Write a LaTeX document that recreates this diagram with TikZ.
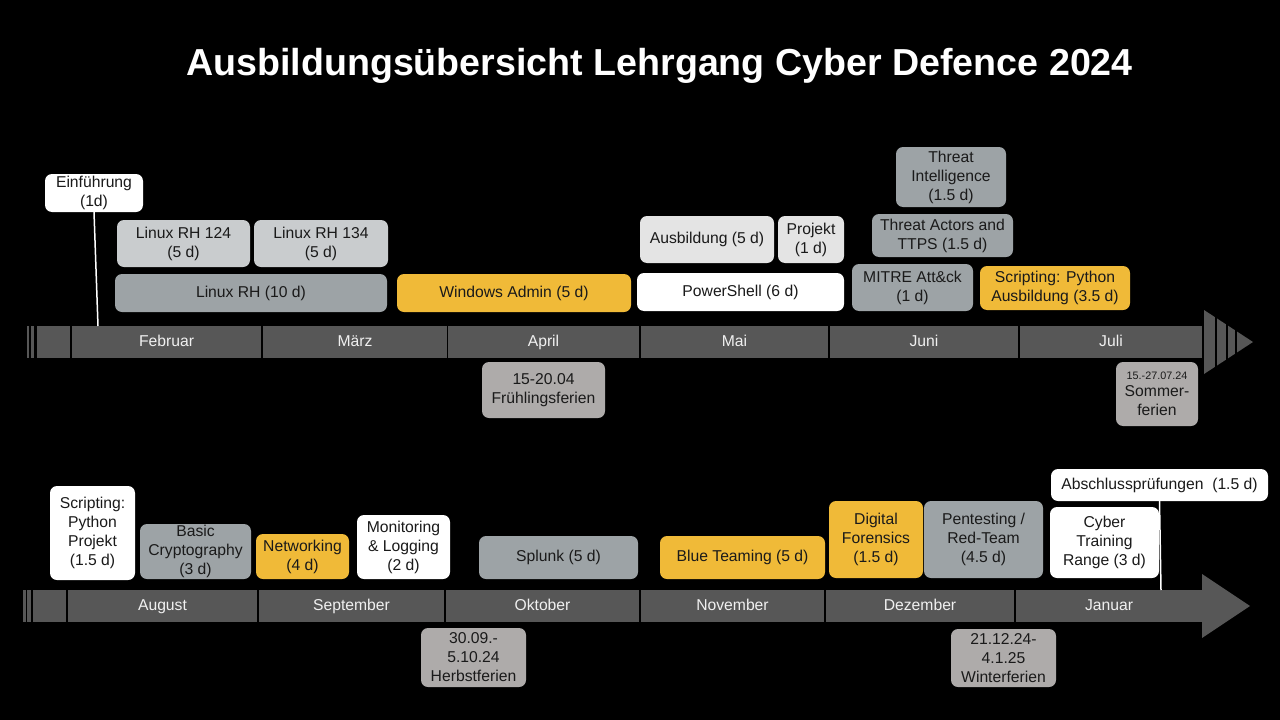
\documentclass[tikz,border=0pt]{standalone}
\usepackage{fontspec}
\setmainfont{Liberation Sans}
\definecolor{bargray}{HTML}{575757}
\definecolor{monthtext}{HTML}{F0F0F0}
\definecolor{coursegray}{HTML}{9DA3A6}
\definecolor{lightgray}{HTML}{C9CCCE}
\definecolor{palegray}{HTML}{E4E4E4}
\definecolor{holidaygray}{HTML}{AEABAA}
\definecolor{courseorange}{HTML}{F0BA38}
\definecolor{boxtext}{HTML}{1A1A1A}

\begin{document}
\begin{tikzpicture}[x=1pt,y=-1pt,
  box/.style={rounded corners=7pt,inner sep=0pt,outer sep=0pt,align=center,text=boxtext,font=\fontsize{15.7}{19}\selectfont},
  month/.style={fill=bargray,inner sep=0pt,outer sep=0pt,minimum height=32pt,text height=11.3pt,text depth=3.3pt,text=monthtext,font=\fontsize{15.7}{19}\selectfont},
  connector/.style={draw=white,line width=1.5pt}]
\fill[black] (0,0) rectangle (1280,720);
\node[text=white,font=\bfseries\fontsize{37.6}{44}\selectfont] (title) at (659.5,66) {Ausbildungsübersicht Lehrgang Cyber Defence 2024};

\fill[bargray] (27,326) rectangle (29.3,358);
\fill[bargray] (31,326) rectangle (34.3,358);
\fill[bargray] (36.7,326) rectangle (70,358);
\node[month,minimum width=189pt] (feb) at (166.5,342) {Februar};
\node[month,minimum width=184pt] (mar) at (355,342) {März};
\node[month,minimum width=191pt] (apr) at (543.5,342) {April};
\node[month,minimum width=187pt] (mai) at (734.5,342) {Mai};
\node[month,minimum width=188pt] (jun) at (924,342) {Juni};
\node[month,minimum width=182pt] (jul) at (1111,342) {Juli};
\fill[bargray] (1204,310) -- (1253,342) -- (1204,374) -- cycle;
\draw[black,line width=2pt] (1216,300) -- (1216,385) (1227,300) -- (1227,385) (1236,300) -- (1236,385);

\fill[bargray] (23.3,590) rectangle (26,622);
\fill[bargray] (27.3,590) rectangle (30.7,622);
\fill[bargray] (33,590) rectangle (66,622);
\node[month,minimum width=189pt] (aug) at (162.5,606) {August};
\node[month,minimum width=185pt] (sep) at (351.5,606) {September};
\node[month,minimum width=193pt] (okt) at (542.5,606) {Oktober};
\node[month,minimum width=183pt] (nov) at (732.5,606) {November};
\node[month,minimum width=188pt] (dez) at (920,606) {Dezember};
\node[month,minimum width=186pt] (jan) at (1109,606) {Januar};
\fill[bargray] (1202,574) -- (1250,606) -- (1202,638) -- cycle;

\node[box,fill=white,minimum width=98pt,minimum height=38pt] (einf) at (94,193) {Einführung\\(1d)};
\node[box,fill=lightgray,minimum width=133pt,minimum height=47pt] (lrh124) at (183.5,243.5) {Linux RH 124\\(5 d)};
\node[box,fill=lightgray,minimum width=134pt,minimum height=47pt] (lrh134) at (321,243.5) {Linux RH 134\\(5 d)};
\node[box,fill=coursegray,minimum width=272pt,minimum height=38pt] (lrh) at (251,293) {Linux RH (10 d)};
\node[box,fill=courseorange,minimum width=234pt,minimum height=38pt] (winadm) at (514,293) {Windows Admin (5 d)};
\node[box,fill=palegray,minimum width=134pt,minimum height=47pt] (psausb) at (707,239.5) {Ausbildung (5 d)};
\node[box,fill=palegray,minimum width=66pt,minimum height=47pt] (psproj) at (811,239.5) {Projekt\\(1 d)};
\node[box,fill=white,minimum width=207pt,minimum height=38pt] (pshell) at (740.5,292) {PowerShell (6 d)};
\node[box,fill=coursegray,minimum width=121pt,minimum height=47pt] (mitre) at (912.5,287.5) {MITRE Att\&ck\\(1 d)};
\node[box,fill=courseorange,minimum width=150pt,minimum height=44pt] (pyausb) at (1055,288) {Scripting: Python\\Ausbildung (3.5 d)};
\node[box,fill=coursegray,minimum width=141pt,minimum height=43pt] (ttps) at (942.5,235.5) {Threat Actors and\\TTPS (1.5 d)};
\node[box,fill=coursegray,minimum width=110pt,minimum height=60pt] (intel) at (951,177) {Threat\\Intelligence\\(1.5 d)};
\node[box,fill=holidaygray,minimum width=123pt,minimum height=56pt] (fruehling) at (543.5,390) {15-20.04\\Frühlingsferien};
\node[box,fill=holidaygray,minimum width=82pt,minimum height=64pt] (sommer) at (1157,394) {{\fontsize{10.8}{13}\selectfont 15.-27.07.24}\\[-2pt]Sommer-\\ferien};
\coordinate (einfEnd) at (98,326);
\draw[connector] (einf.south) -- (einfEnd);

\node[box,fill=white,minimum width=85pt,minimum height=94pt] (pyproj) at (92.5,533) {Scripting:\\Python\\Projekt\\(1.5 d)};
\node[box,fill=coursegray,minimum width=111pt,minimum height=55pt] (crypto) at (195.5,551.5) {Basic\\Cryptography\\(3 d)};
\node[box,fill=courseorange,minimum width=93pt,minimum height=45pt] (netw) at (302.5,556.5) {Networking\\(4 d)};
\node[box,fill=white,minimum width=93pt,minimum height=64pt] (monlog) at (403.5,547) {Monitoring\\\& Logging\\(2 d)};
\node[box,fill=coursegray,minimum width=159pt,minimum height=43pt] (splunk) at (558.5,557.5) {Splunk (5 d)};
\node[box,fill=courseorange,minimum width=165pt,minimum height=43pt] (blue) at (742.5,557.5) {Blue Teaming (5 d)};
\node[box,fill=courseorange,minimum width=94pt,minimum height=77pt] (forens) at (876,539.5) {Digital\\Forensics\\(1.5 d)};
\node[box,fill=coursegray,minimum width=119pt,minimum height=77pt] (pentest) at (983.5,539.5) {Pentesting /\\Red-Team\\(4.5 d)};
\node[box,fill=white,minimum width=109pt,minimum height=71pt] (range) at (1104.5,542.5) {Cyber\\Training\\Range (3 d)};
\node[box,fill=white,minimum width=217pt,minimum height=32pt] (abschl) at (1159.5,485) {Abschlussprüfungen\ \ (1.5 d)};
\node[box,fill=holidaygray,minimum width=105pt,minimum height=59pt] (herbst) at (473.5,657.5) {30.09.-\\5.10.24\\Herbstferien};
\node[box,fill=holidaygray,minimum width=105pt,minimum height=58pt] (winter) at (1003.5,658) {21.12.24-\\4.1.25\\Winterferien};
\coordinate (abschlEnd) at (1161,590);
\draw[connector] (abschl.south) -- (abschlEnd);
\end{tikzpicture}
\end{document}
